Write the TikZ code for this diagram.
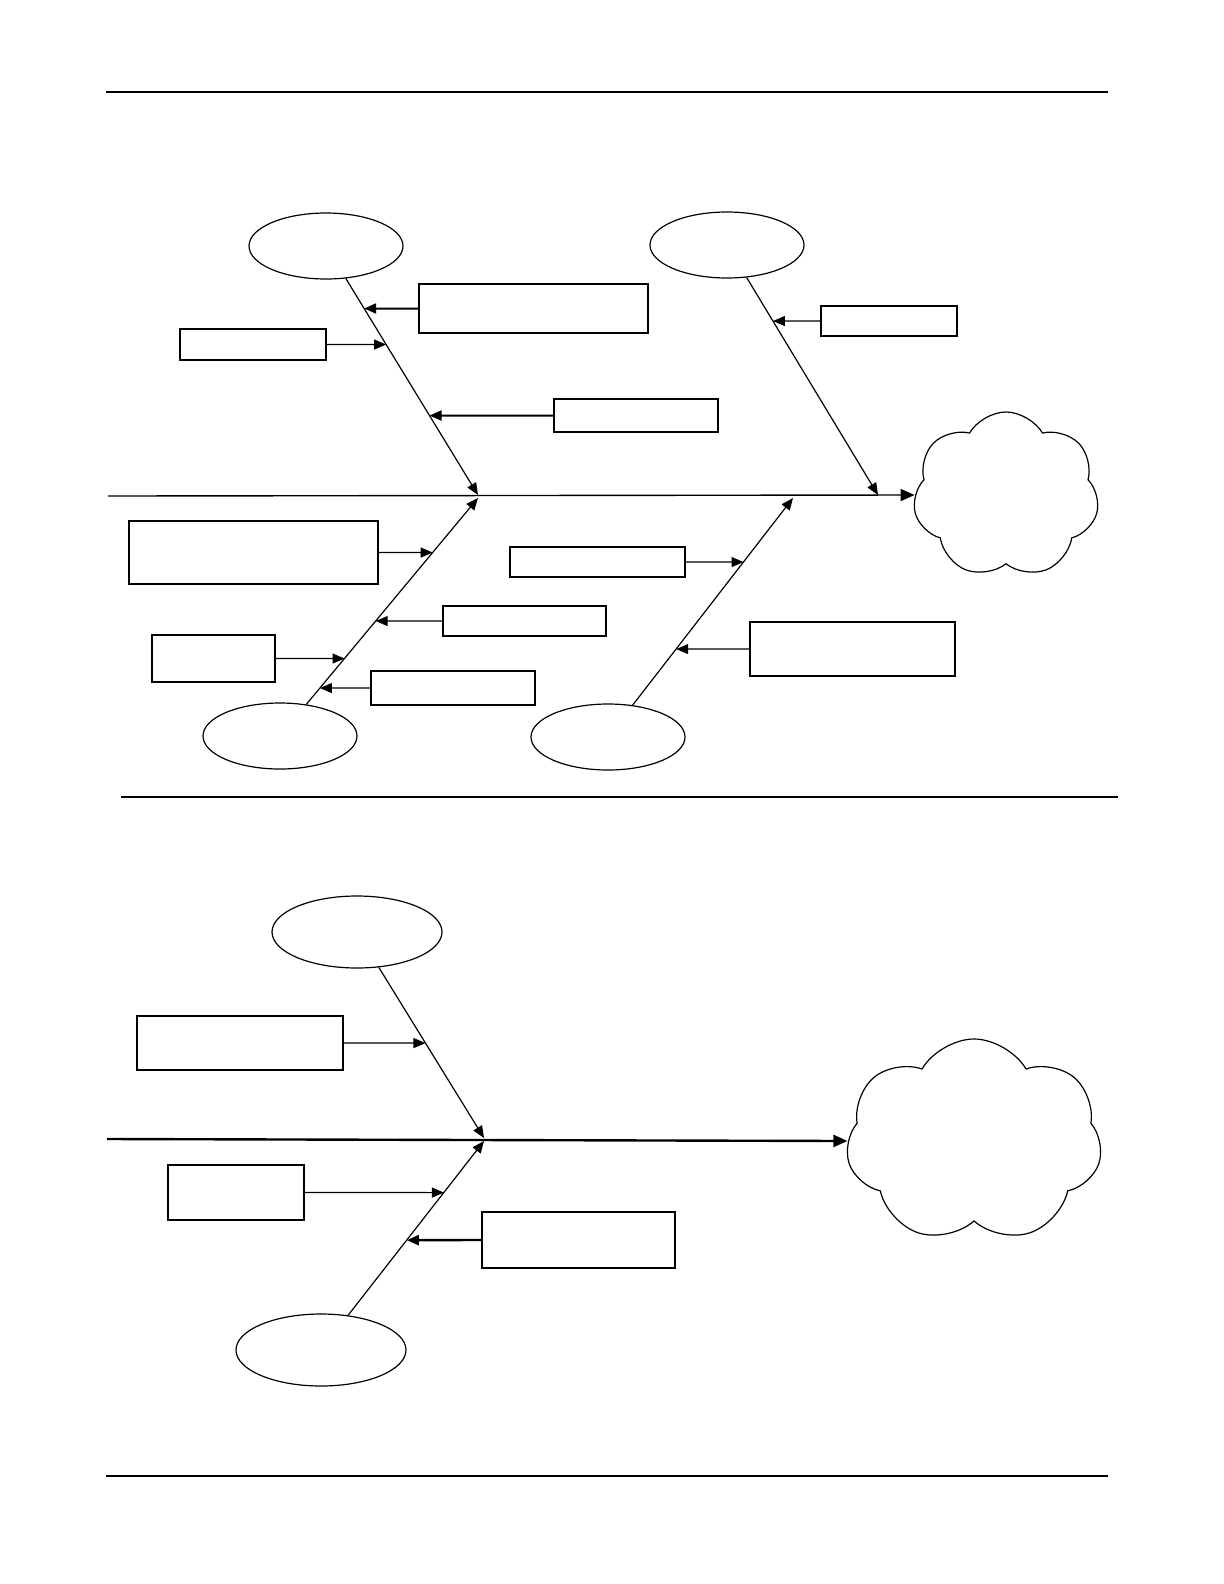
\documentclass[tikz,border=0pt]{standalone}
\usetikzlibrary{arrows, arrows.meta}
\usetikzlibrary{calc}
\usetikzlibrary{fit}
\usetikzlibrary{shapes.geometric, shapes.symbols}

\begin{document}
\begin{tikzpicture}[x=0.5bp, y=-0.5bp,
    cause/.style={ellipse, draw, line width=0.6pt, inner sep=0pt, minimum width=77bp, minimum height=33bp},
    box/.style={rectangle, draw, line width=0.7pt, inner sep=0pt},
    effect/.style={cloud, draw, line width=0.6pt, cloud puffs=7, cloud puff arc=120, cloud ignores aspect, inner sep=0pt},
    bone/.style={line width=0.6pt, -{Triangle[length=6bp, width=5bp]}},
    feed/.style={line width=0.6pt, -{Triangle[length=6bp, width=5bp]}}]
      \useasboundingbox (0,0) rectangle (1224,1584);

      % page rules
      \draw[line width=0.8pt] (106,92) -- (1108,92);
      \draw[line width=0.8pt] (106,1476) -- (1108,1476);
      \draw[line width=1.4pt] (121,797) -- (1118,797);

      % first diagram
      \node[cause] (people) at (326,246) {};
      \node[cause] (methods) at (727,245) {};
      \node[cause] (tools) at (280,736) {};
      \node[cause] (place) at (608,737) {};
      \node[effect, minimum width=93bp, minimum height=83bp, shape border rotate=10] (result) at (1006,495) {};

      \coordinate (tail) at (108,496);
      \coordinate (hPeople) at (478,495);
      \coordinate (hMethods) at (878,495);
      \coordinate (hTools) at (478,498);
      \coordinate (hPlace) at (793,498);

      \draw[line width=0.7pt, -{Triangle[length=7bp, width=6bp]}] (tail) -- (result.west);
      \draw[bone] (people) -- (hPeople);
      \draw[bone] (methods) -- (hMethods);
      \draw[bone] (tools) -- (hTools);
      \draw[bone] (place) -- (hPlace);

      \node[box, fit={(419,284) (648,333)}] (p1) {};
      \node[box, line width=1pt, fit={(180,329) (326,360)}] (p2) {};
      \node[box, fit={(554,399) (718,432)}] (p3) {};
      \node[box, fit={(821,306) (957,336)}] (m1) {};
      \node[box, fit={(129,521) (378,584)}] (t1) {};
      \node[box, fit={(443,606) (606,636)}] (t2) {};
      \node[box, fit={(152,635) (275,682)}] (t3) {};
      \node[box, fit={(371,671) (535,705)}] (t4) {};
      \node[box, fit={(510,547) (685,577)}] (l1) {};
      \node[box, fit={(750,622) (955,676)}] (l2) {};

      \draw[feed, line width=1pt] (p1.west) -- (intersection of people--hPeople and p1.west--p1.east);
      \draw[feed] (p2.east) -- (intersection of people--hPeople and p2.west--p2.east);
      \draw[feed, line width=1pt] (p3.west) -- (intersection of people--hPeople and p3.west--p3.east);
      \draw[feed] (m1.west) -- (intersection of methods--hMethods and m1.west--m1.east);
      \draw[feed] (t1.east) -- (intersection of tools--hTools and t1.west--t1.east);
      \draw[feed] (t2.west) -- (intersection of tools--hTools and t2.west--t2.east);
      \draw[feed] (t3.east) -- (intersection of tools--hTools and t3.west--t3.east);
      \draw[feed] (t4.west) -- (intersection of tools--hTools and t4.west--t4.east);
      \draw[feed] (l1.east) -- (intersection of place--hPlace and l1.west--l1.east);
      \draw[feed] (l2.west) -- (intersection of place--hPlace and l2.west--l2.east);

      % second diagram
      \node[cause, minimum width=85bp, minimum height=36bp] (upper) at (357,932) {};
      \node[cause, minimum width=85bp, minimum height=36bp] (lower) at (321,1350) {};
      \node[effect, minimum width=128bp, minimum height=102bp, shape border rotate=5] (outcome) at (974,1141) {};

      \coordinate (tail2) at (107,1139);
      \coordinate (hUpper) at (484,1138);
      \coordinate (hLower) at (484,1141);

      \draw[line width=1.2pt, -{Triangle[length=7bp, width=6bp]}] (tail2) -- (outcome.west);
      \draw[bone] (upper) -- (hUpper);
      \draw[bone] (lower) -- (hLower);

      \node[box, fit={(137,1016) (343,1070)}] (u1) {};
      \node[box, line width=1pt, fit={(168,1165) (304,1220)}] (w1) {};
      \node[box, fit={(482,1212) (675,1268)}] (w2) {};

      \draw[feed] (u1.east) -- (intersection of upper--hUpper and u1.west--u1.east);
      \draw[feed] (w1.east) -- (intersection of lower--hLower and w1.west--w1.east);
      \draw[feed, line width=1.2pt] (w2.west) -- (intersection of lower--hLower and w2.west--w2.east);
\end{tikzpicture}
\end{document}
